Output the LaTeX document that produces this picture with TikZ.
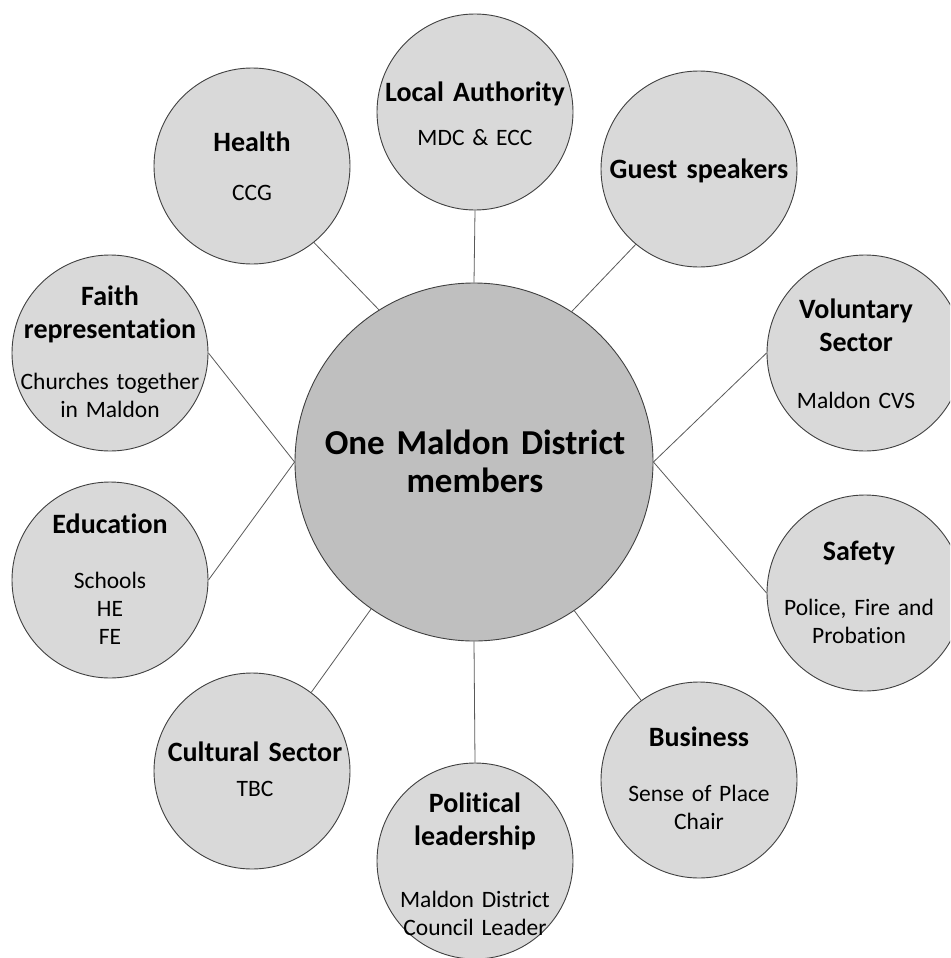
\documentclass[tikz,border=0pt]{standalone}
\usepackage{fontspec}
\setmainfont{Carlito}[Ligatures=NoCommon]
\definecolor{ringgray}{RGB}{217,217,217}
\definecolor{coregray}{RGB}{191,191,191}
\definecolor{edgegray}{RGB}{64,64,64}
\definecolor{linkgray}{RGB}{89,89,89}
\tikzset{
  member/.style={circle, draw=edgegray, fill=ringgray, line width=0.9pt, minimum size=196pt, inner sep=0pt},
  core/.style={circle, draw=edgegray, fill=coregray, line width=0.9pt, minimum size=358pt, inner sep=0pt},
  head/.style={anchor=base, align=center, text width=210pt, inner sep=0pt, font=\fontsize{28}{33}\selectfont\bfseries},
  note/.style={anchor=base, align=center, text width=210pt, inner sep=0pt, font=\fontsize{23.5}{28}\selectfont},
  bighead/.style={anchor=base, align=center, text width=340pt, inner sep=0pt, font=\fontsize{35}{38}\selectfont\bfseries},
  link/.style={draw=linkgray, line width=0.8pt}
}
\begin{document}
\begin{tikzpicture}[x=1pt, y=-1pt]
\useasboundingbox (0,0) rectangle (950,958);
\clip (0,0) rectangle (950,958);
% centre
\node[core] (hub) at (474,462) {};
\node[bighead] (hub-t) at (475,454) {One Maldon District\\members};
% members round it
\node[member] (la) at (475,112) {};
\node[head] (la-h) at (475,101) {Local Authority};
\node[note] (la-n) at (475,145) {MDC \& ECC};
\node[member] (health) at (252,166) {};
\node[head] (health-h) at (252,151) {Health};
\node[note] (health-n) at (252,200) {CCG};
\node[member] (guest) at (699,169) {};
\node[head] (guest-h) at (699,178) {Guest speakers};
\node[member] (faith) at (110,353) {};
\node[head] (faith-h) at (110,305) {Faith\\representation};
\node[note] (faith-n) at (110,389) {Churches together\\in Maldon};
\node[member] (vol) at (865,353) {};
\node[head] (vol-h) at (856,318) {Voluntary\\Sector};
\node[note] (vol-n) at (856,408) {Maldon CVS};
\node[member] (edu) at (110,580) {};
\node[head] (edu-h) at (110,533) {Education};
\node[note] (edu-n) at (110,588) {Schools\\HE\\FE};
\node[member] (safety) at (865,593) {};
\node[head] (safety-h) at (859,560) {Safety};
\node[note] (safety-n) at (859,615) {Police, Fire and\\Probation};
\node[member] (cult) at (252,771) {};
\node[head] (cult-h) at (255,761) {Cultural Sector};
\node[note] (cult-n) at (255,796) {TBC};
\node[member] (bus) at (699,780) {};
\node[head] (bus-h) at (699,746) {Business};
\node[note] (bus-n) at (699,801) {Sense of Place\\Chair};
\node[member] (pol) at (475,861) {};
\node[head] (pol-h) at (475,812) {Political\\leadership};
\node[note] (pol-n) at (475,907) {Maldon District\\Council Leader};
% links
\draw[link] (la.south) -- (hub.north);
\draw[link] (health.-51) -- (hub.122);
\draw[link] (guest.230) -- (hub.57.5);
\draw[link] (faith.east) -- (hub.west);
\draw[link] (edu.east) -- (hub.west);
\draw[link] (vol.west) -- (hub.east);
\draw[link] (safety.west) -- (hub.east);
\draw[link] (cult.53) -- (hub.235);
\draw[link] (bus.126) -- (hub.-56);
\draw[link] (hub.south) -- (pol.north);
\end{tikzpicture}
\end{document}
